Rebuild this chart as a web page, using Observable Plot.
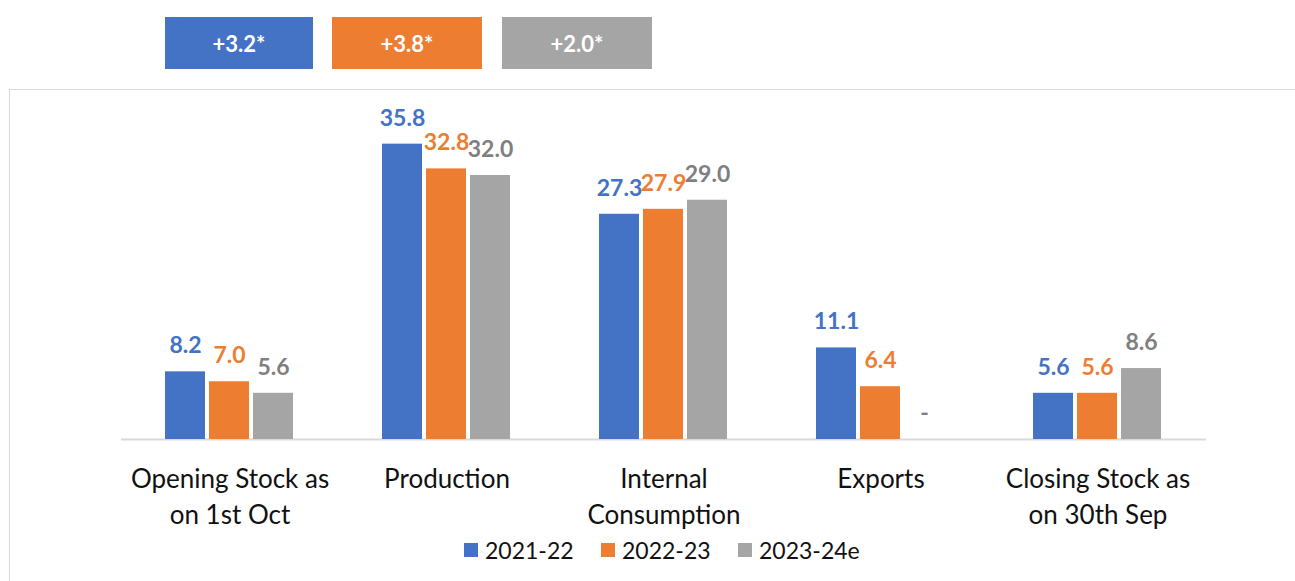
<!DOCTYPE html>
<html>
<head>
<meta charset="utf-8">
<script src="https://cdn.jsdelivr.net/npm/d3@7"></script>
<script src="https://cdn.jsdelivr.net/npm/@observablehq/plot@0.6"></script>
<style>
  body { margin: 0; background: #fff; font-family: Lato, "Open Sans", sans-serif; }
  #wrap { position: relative; width: 1295px; height: 581px; overflow: hidden; }
  .box { position: absolute; top: 17px; height: 52px; color: #fff; font-weight: bold; font-size: 22px;
         display: flex; align-items: center; justify-content: center; }
  #frame { position: absolute; left: 9px; top: 89px; width: 1400px; height: 600px; border: 1.5px solid #d9d9d9; box-sizing: border-box; }
  #chart { position: absolute; left: 0; top: 89px; }
  #legend { position: absolute; top: 535px; left: 0; width: 1295px; height: 30px; font-size: 23px; color: #111; }
  .li { position: absolute; top: 0; height: 30px; display: flex; align-items: center; white-space: nowrap; }
  .sw { width: 14px; height: 14px; margin-right: 7px; display: inline-block; }
</style>
</head>
<body>
<div id="wrap">
  <div id="frame"></div>
  <div id="boxes"></div>
  <div id="chart"></div>
  <div id="legend"></div>
</div>
<script>
const categories = ["Opening Stock as\non 1st Oct", "Production", "Internal\nConsumption", "Exports", "Closing Stock as\non 30th Sep"];
const seasons = ["2021-22", "2022-23", "2023-24e"];
const values2122 = [8.2, 35.8, 27.3, 11.1, 5.6];
const values2223 = [7.0, 32.8, 27.9, 6.4, 5.6];
const values2324 = [5.6, 32.0, 29.0, null, 8.6];
const growthLabels = ["+3.2*", "+3.8*", "+2.0*"];

const barColors = ["#4472C4", "#ED7D31", "#A5A5A5"];
const labelColors = ["#4472C4", "#ED7D31", "#7F7F7F"];
const boxLeft = [165, 332, 502];
const boxWidth = [148, 150, 150];
const legendLeft = [464, 601, 738];

const series = [values2122, values2223, values2324];
const data = [];
seasons.forEach((s, i) => {
  categories.forEach((c, j) => {
    const v = series[i][j];
    data.push({category: c, season: s, value: v, label: v == null ? "-" : v.toFixed(1)});
  });
});

// top growth boxes
const boxes = document.getElementById("boxes");
growthLabels.forEach((g, i) => {
  const d = document.createElement("div");
  d.className = "box";
  d.style.left = boxLeft[i] + "px";
  d.style.width = boxWidth[i] + "px";
  d.style.background = barColors[i];
  d.textContent = g;
  boxes.appendChild(d);
});

const marks = [Plot.ruleY([0], {stroke: "#d9d9d9", strokeWidth: 2})];
seasons.forEach((s, i) => {
  const sub = data.filter(d => d.season === s);
  marks.push(Plot.barY(sub.filter(d => d.value != null), {fx: "category", x: "season", y: "value", fill: barColors[i]}));
  marks.push(Plot.text(sub, {fx: "category", x: "season", y: d => d.value ?? 0, text: "label", dy: -26,
    fill: labelColors[i], fontSize: 23, fontWeight: "bold", lineAnchor: "middle"}));
});
marks.push(Plot.axisFx({anchor: "bottom", tickSize: 0, tickPadding: 24, fontSize: 26, lineHeight: 1.35, label: null, fill: "#111"}));

const chart = Plot.plot({
  width: 1295,
  height: 450,
  marginTop: 20,
  marginBottom: 100,
  marginLeft: 119,
  marginRight: 88,
  style: {fontFamily: "Lato, 'Open Sans', sans-serif", background: "transparent"},
  fx: {domain: categories, padding: 0, label: null, axis: null},
  x: {domain: seasons, paddingInner: 0.08, paddingOuter: 0.98, axis: null},
  y: {domain: [0, 40], axis: null},
  marks
});
document.getElementById("chart").appendChild(chart);

// legend
const legend = document.getElementById("legend");
seasons.forEach((s, i) => {
  const li = document.createElement("div");
  li.className = "li";
  li.style.left = legendLeft[i] + "px";
  li.innerHTML = `<span class="sw" style="background:${barColors[i]}"></span><span>${s}</span>`;
  legend.appendChild(li);
});
</script>
</body>
</html>
